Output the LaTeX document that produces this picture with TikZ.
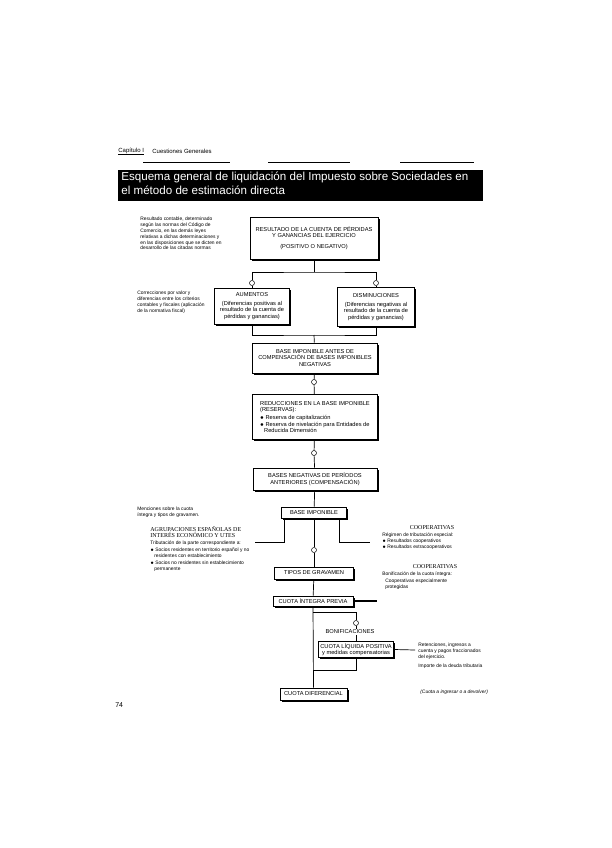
\documentclass[tikz,border=0pt]{standalone}
\usepackage{fontspec}
\setmainfont{Liberation Sans}
\newfontfamily\encabfam{Liberation Serif}
\newcommand\cajafont{\fontsize{5.7}{6.7}\selectfont}
\newcommand\notafont{\fontsize{4.9}{5.8}\selectfont}
\newcommand\tituloN{\encabfam\fontsize{6}{6.8}\selectfont}
\begin{document}
\begin{tikzpicture}[x=1pt,y=-1pt,line width=0.7pt,
  caja/.style={draw,fill=white,align=center,font=\cajafont,inner sep=1.5pt,
    preaction={fill=black,transform canvas={xshift=1.8pt,yshift=-1.8pt}}},
  nota/.style={anchor=north west,align=left,font=\notafont,inner sep=0pt},
  encab/.style={anchor=north,align=center,font=\tituloN,inner sep=0pt},
  nudo/.style={circle,draw,fill=white,inner sep=0pt,minimum size=5pt,line width=0.5pt}]
  \useasboundingbox (0,0) rectangle (612,848);

  % cabecera de la pagina
  \node[anchor=west,font=\fontsize{6}{7}\selectfont,inner sep=0pt] (cap) at (118,151) {Capítulo I};
  \node[anchor=west,font=\fontsize{6}{7}\selectfont,inner sep=0pt] (cuest) at (152,151) {Cuestiones Generales};
  \draw[line width=0.4pt] (cap.south west) -- (cap.south east);
  \draw[line width=0.5pt] (143,162) -- (230,162);
  \draw[line width=0.5pt] (268,162) -- (350,162);
  \draw[line width=0.5pt] (400,162) -- (474,162);
  \fill (118,170) rectangle (483,201);
  \node[anchor=north west,text=white,align=left,inner sep=0pt,
    font=\fontsize{11.6}{13.8}\selectfont] (titulo) at (121,172)
    {Esquema general de liquidación del Impuesto sobre Sociedades en\\el método de estimación directa};

  % cajas
  \node[caja,minimum width=128,minimum height=42] (res) at (314,238)
    {RESULTADO DE LA CUENTA DE PÉRDIDAS\\Y GANANCIAS DEL EJERCICIO\\[4pt](POSITIVO O NEGATIVO)};
  \node[caja,minimum width=75,minimum height=36] (aum) at (252,306)
    {AUMENTOS\\[2pt](Diferencias positivas al\\resultado de la cuenta de\\pérdidas y ganancias)};
  \node[caja,minimum width=77,minimum height=39] (dis) at (376,307)
    {DISMINUCIONES\\[2pt](Diferencias negativas al\\resultado de la cuenta de\\pérdidas y ganancias)};
  \node[caja,minimum width=125,minimum height=30] (bai) at (315,358)
    {BASE IMPONIBLE ANTES DE\\COMPENSACIÓN DE BASES IMPONIBLES\\NEGATIVAS};
  \node[caja,minimum width=125,minimum height=45,align=left] (red) at (315,417)
    {REDUCCIONES EN LA BASE IMPONIBLE\\(RESERVAS):\\[1pt]
     $\bullet$ Reserva de capitalización\\
     $\bullet$ Reserva de nivelación para Entidades de\\\hspace*{4pt}Reducida Dimensión};
  \node[caja,minimum width=124,minimum height=22] (bneg) at (315,479)
    {BASES NEGATIVAS DE PERÍODOS\\ANTERIORES (COMPENSACIÓN)};
  \node[caja,minimum width=65,minimum height=11] (bi) at (314,512.5) {BASE IMPONIBLE};
  \node[caja,minimum width=79,minimum height=12] (tip) at (314,573) {TIPOS DE GRAVAMEN};
  \node[caja,minimum width=80,minimum height=10] (cip) at (313,601) {CUOTA ÍNTEGRA PREVIA};
  \node[font=\cajafont,inner sep=1pt,fill=white] (bon) at (350,632) {BONIFICACIONES};
  \node[caja,minimum width=75,minimum height=15] (cuo) at (356,649.5)
    {CUOTA LÍQUIDA POSITIVA\\y medidas compensatorias};
  \node[caja,minimum width=67,minimum height=12] (fin) at (313.5,694) {CUOTA DIFERENCIAL};

  % nudos
  \node[nudo] (n1) at (252,283) {};
  \node[nudo] (n2) at (376,283) {};
  \node[nudo] (n3) at (314,382) {};
  \node[nudo] (n4) at (314,453) {};
  \node[nudo] (n5) at (314,550) {};
  \node[nudo] (n6) at (356,623) {};

  % notas
  \node[nota] (n_res) at (140,217)
    {Resultado contable, determinado\\según las normas del Código de\\Comercio, en las demás leyes\\relativas a dichas determinaciones y\\en las disposiciones que se dicten en\\desarrollo de las citadas normas};
  \node[nota] (n_aum) at (137,291)
    {Correcciones por valor y\\diferencias entre los criterios\\contables y fiscales (aplicación\\de la normativa fiscal)};
  \node[nota] (n_bi) at (137,507) {Menciones sobre la cuota\\íntegra y tipos de gravamen.};
  \node[nota] (n_agr) at (150,526)
    {{\tituloN AGRUPACIONES ESPAÑOLAS DE}\\{\tituloN INTERÉS ECONÓMICO Y UTES}\\[2pt]
     Tributación de la parte correspondiente a:\\[1pt]
     $\bullet$ Socios residentes en territorio español y no\\\hspace*{4pt}residentes con establecimiento\\[1pt]
     $\bullet$ Socios no residentes sin establecimiento\\\hspace*{4pt}permanente};
  \node[encab] (h_coop1) at (432,525) {COOPERATIVAS};
  \node[nota] (n_coop1) at (382,533)
    {Régimen de tributación especial:\\$\bullet$ Resultados cooperativos\\$\bullet$ Resultados extracooperativos};
  \node[encab] (h_coop2) at (435,564) {COOPERATIVAS};
  \node[nota] (n_coop2) at (382,572)
    {Bonificación de la cuota íntegra:\\[1pt]\hspace*{3pt}Cooperativas especialmente\\\hspace*{3pt}protegidas};
  \node[nota] (n_ret) at (418,643)
    {Retenciones, ingresos a\\cuenta y pagos fraccionados\\del ejercicio.\\[3pt]Importe de la deuda tributaria};
  \node[nota,font=\notafont\itshape] (n_fin) at (420,690) {(Cuota a ingresar o a devolver)};
  \node[anchor=west,font=\fontsize{7}{8}\selectfont,inner sep=0pt] (pag) at (115,705) {74};

  % puntos de union
  \coordinate (j1) at (314,272);
  \coordinate (j2) at (314,335);
  \coordinate (agr) at (255,542);
  \coordinate (coop1) at (370,542);
  \coordinate (coop2) at (377,601);
  \coordinate (j3) at (313,612);
  \coordinate (j4) at (313,670);
  \coordinate (ret) at (415,650);

  % conectores
  \draw (res) -- (j1);
  \draw (n1.north) |- (j1) -| (n2.north);
  \draw (n1) -- (aum);
  \draw (n2) -- (dis);
  \draw (aum.south) |- (j2) -| (dis.south);
  \draw (j2) -- (bai);
  \draw (bai) -- (n3);
  \draw (n3) -- (red);
  \draw (red) -- (n4);
  \draw (n4) -- (bneg);
  \draw (bneg) -- (bi);
  \draw (bi.south west) ++(3,0) |- (agr);
  \draw (bi.south east) ++(-8,0) |- (coop1);
  \draw (bi) -- (n5);
  \draw (n5) -- (tip);
  \draw (tip) -- (cip);
  \draw[line width=1.2pt] (cip.east) -- (coop2);
  \draw (cip.south) -- (fin.north);
  \draw (j3) -| (n6);
  \draw (n6) -- (n6 |- bon.north);
  \draw (bon.south -| cuo.north) -- (cuo.north);
  \draw (cuo.east) -- (ret);
  \draw (cuo.south) |- (j4);
\end{tikzpicture}
\end{document}
